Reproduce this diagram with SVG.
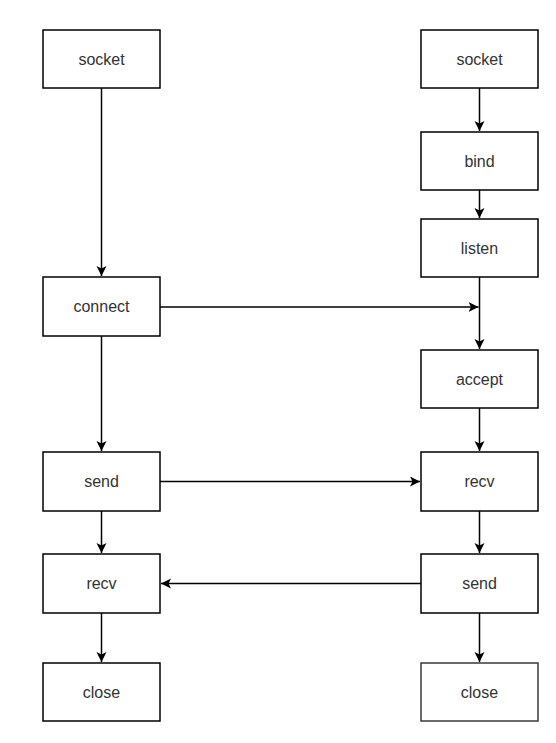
<svg xmlns="http://www.w3.org/2000/svg" width="556" height="743" viewBox="0 0 556 743">
<style>
.box{fill:#fff;stroke:#000;stroke-width:1.5}
.lbl{font-family:"Liberation Sans",Arial,sans-serif;font-size:16px;fill:#333;text-anchor:middle;dominant-baseline:central}
.edge{fill:none;stroke:#000;stroke-width:1.5;marker-end:url(#arr)}
</style>
<defs>
<marker id="arr" markerUnits="userSpaceOnUse" markerWidth="12" markerHeight="12" refX="10" refY="5" orient="auto">
<path d="M0,0 L10,5 L0,10 L2.5,5 Z" fill="#000"/>
</marker>
</defs>
<rect width="556" height="743" fill="#fff"/>
<g id="connectors">
<path class="edge" d="M101.5,88 V276"/>
<path class="edge" d="M101.5,336 V451"/>
<path class="edge" d="M101.5,511 V553"/>
<path class="edge" d="M101.5,613 V662"/>
<path class="edge" d="M479.5,88 V131"/>
<path class="edge" d="M479.5,190 V218"/>
<path class="edge" d="M479.5,277 V349"/>
<path class="edge" d="M479.5,408 V451"/>
<path class="edge" d="M479.5,511 V553"/>
<path class="edge" d="M479.5,613 V662"/>
<path class="edge" d="M160,307 H478.5"/>
<path class="edge" d="M160,481.5 H420"/>
<path class="edge" d="M421,583.5 H161"/>
</g>
<g id="c_socket"><rect class="box" x="43" y="30" width="117" height="58"/><text class="lbl" x="101.5" y="59">socket</text></g>
<g id="c_connect"><rect class="box" x="43" y="277" width="117" height="59"/><text class="lbl" x="101.5" y="306.5">connect</text></g>
<g id="c_send"><rect class="box" x="43" y="452" width="117" height="59"/><text class="lbl" x="101.5" y="481.5">send</text></g>
<g id="c_recv"><rect class="box" x="43" y="554" width="117" height="59"/><text class="lbl" x="101.5" y="583.5">recv</text></g>
<g id="c_close"><rect class="box" x="43" y="663" width="117" height="58"/><text class="lbl" x="101.5" y="692">close</text></g>
<g id="s_socket"><rect class="box" x="421" y="30" width="117" height="58"/><text class="lbl" x="479.5" y="59">socket</text></g>
<g id="s_bind"><rect class="box" x="421" y="132" width="117" height="58"/><text class="lbl" x="479.5" y="161">bind</text></g>
<g id="s_listen"><rect class="box" x="421" y="219" width="117" height="58"/><text class="lbl" x="479.5" y="248">listen</text></g>
<g id="s_accept"><rect class="box" x="421" y="350" width="117" height="58"/><text class="lbl" x="479.5" y="379">accept</text></g>
<g id="s_recv"><rect class="box" x="421" y="452" width="117" height="59"/><text class="lbl" x="479.5" y="481.5">recv</text></g>
<g id="s_send"><rect class="box" x="421" y="554" width="117" height="59"/><text class="lbl" x="479.5" y="583.5">send</text></g>
<g id="s_close"><rect class="box" x="421" y="663" width="117" height="58" style="stroke:#3a3a3a"/><text class="lbl" x="479.5" y="692">close</text></g>
</svg>
